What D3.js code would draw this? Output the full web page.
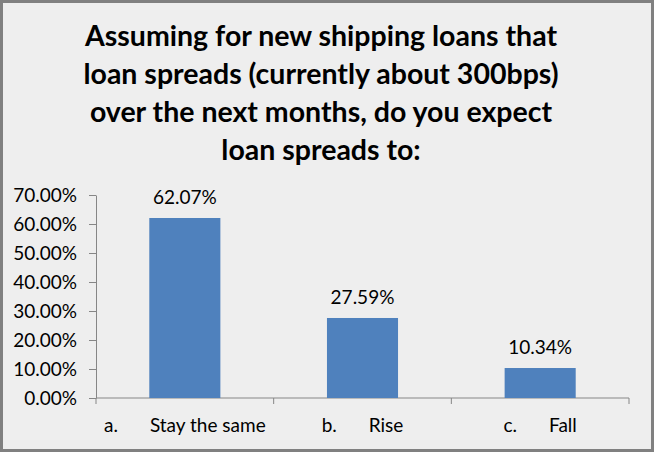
<!DOCTYPE html>
<html>
  <head>
    <title>Loan spreads</title>
    <script src="https://cdn.jsdelivr.net/npm/d3@7"></script>
    <style>
      html, body { margin: 0; padding: 0; background: #fff; overflow: hidden; }
      svg { display: block; }
      text { font-family: Lato, 'Open Sans', sans-serif; }
    </style>
  </head>
  <body>
    <svg width="654" height="452" id="mainsvg"></svg>
    <script>
      // data
      const prefixes = ['a.', 'b.', 'c.'];
      const categories = ['Stay the same', 'Rise', 'Fall'];
      const values = [0.6207, 0.2759, 0.1034];
      const yTicks = [0, 0.1, 0.2, 0.3, 0.4, 0.5, 0.6, 0.7];
      const titleLines = [
        'Assuming for new shipping loans that',
        'loan spreads (currently about 300bps)',
        'over the next months, do you expect',
        'loan spreads to:'
      ];

      const svg = d3.select('#mainsvg');
      const width = +svg.attr('width');
      const height = +svg.attr('height');
      const margin = {top: 195, right: 25, bottom: 54, left: 96};
      const innerWidth = width - margin.left - margin.right;
      const innerHeight = height - margin.top - margin.bottom;
      const labelSize = 19;

      // chart area background + border
      svg.append('rect')
        .attr('x', 1.5).attr('y', 1.5)
        .attr('width', width - 3).attr('height', height - 3)
        .attr('fill', '#eeeeee')
        .attr('stroke', '#808080')
        .attr('stroke-width', 3);

      // title, one text per line
      svg.selectAll('.title-line')
        .data(titleLines)
        .join('text')
        .attr('class', 'title-line')
        .attr('x', 321)
        .attr('y', (d, i) => 46 + i * 38)
        .attr('text-anchor', 'middle')
        .attr('font-weight', 'bold')
        .attr('font-size', 28.5)
        .attr('fill', '#000')
        .text(d => d);

      const g = svg.append('g')
        .attr('transform', `translate(${margin.left}, ${margin.top})`)
        .attr('id', 'maingroup');

      const xScale = d3.scaleBand()
        .domain(categories)
        .range([0, innerWidth])
        .paddingInner(0.6)
        .paddingOuter(0.3);

      const yScale = d3.scaleLinear()
        .domain([0, 0.7])
        .range([innerHeight, 0]);

      // y axis
      const yAxis = d3.axisLeft(yScale)
        .tickValues(yTicks)
        .tickFormat(d3.format('.2%'))
        .tickSizeInner(7)
        .tickSizeOuter(0)
        .tickPadding(12);
      const yAxisGroup = g.append('g').call(yAxis);
      yAxisGroup.selectAll('.domain, .tick line').attr('stroke', '#868686');
      yAxisGroup.selectAll('text')
        .attr('font-size', labelSize)
        .attr('font-family', 'Lato, sans-serif')
        .attr('fill', '#000');

      // x axis: line with ticks at band boundaries
      const bounds = d3.range(categories.length + 1).map(i => i * innerWidth / categories.length);
      const xAxisGroup = g.append('g').attr('transform', `translate(0, ${innerHeight})`);
      xAxisGroup.append('line')
        .attr('x1', 0).attr('x2', innerWidth)
        .attr('stroke', '#868686');
      xAxisGroup.selectAll('.xtick')
        .data(bounds)
        .join('line')
        .attr('class', 'xtick')
        .attr('x1', d => d).attr('x2', d => d)
        .attr('y1', 0).attr('y2', 6)
        .attr('stroke', '#868686');

      // bars
      g.selectAll('.bar')
        .data(values)
        .join('rect')
        .attr('class', 'bar')
        .attr('x', (d, i) => xScale(categories[i]))
        .attr('y', d => yScale(d))
        .attr('width', xScale.bandwidth())
        .attr('height', d => innerHeight - yScale(d))
        .attr('fill', '#4f81bd');

      // value labels
      g.selectAll('.value-label')
        .data(values)
        .join('text')
        .attr('class', 'value-label')
        .attr('x', (d, i) => xScale(categories[i]) + xScale.bandwidth() / 2)
        .attr('y', d => yScale(d) - 14)
        .attr('text-anchor', 'middle')
        .attr('font-size', labelSize)
        .attr('fill', '#000')
        .text(d3.format('.2%'));

      // category labels ("a.<tab>Stay the same")
      const catLabels = g.selectAll('.cat-label')
        .data(categories)
        .join('text')
        .attr('class', 'cat-label')
        .attr('x', d => xScale(d) + xScale.bandwidth() / 2)
        .attr('y', innerHeight + 34)
        .attr('text-anchor', 'middle')
        .attr('font-size', labelSize)
        .attr('fill', '#000');
      catLabels.append('tspan').text((d, i) => prefixes[i]);
      catLabels.append('tspan').attr('dx', 32).text(d => d);
    </script>
  </body>
</html>
